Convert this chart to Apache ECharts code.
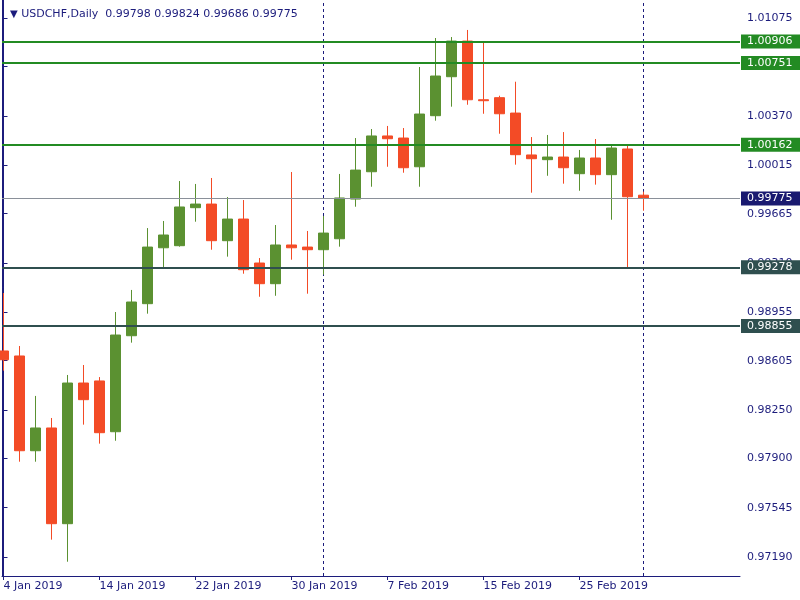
<!DOCTYPE html>
<html><head><meta charset="utf-8">
<script src="https://cdn.jsdelivr.net/npm/echarts@6/dist/echarts.min.js"></script>
<style>html,body{margin:0;padding:0;background:#fff}#c{width:800px;height:600px}</style>
</head><body><div id="c"></div>
<script>
const symbol = 'USDCHF';
const period = 'Daily';
const dates = ['2019-01-04',
  '2019-01-07','2019-01-08','2019-01-09','2019-01-10','2019-01-11',
  '2019-01-14','2019-01-15','2019-01-16','2019-01-17','2019-01-18',
  '2019-01-21','2019-01-22','2019-01-23','2019-01-24','2019-01-25',
  '2019-01-28','2019-01-29','2019-01-30','2019-01-31','2019-02-01',
  '2019-02-04','2019-02-05','2019-02-06','2019-02-07','2019-02-08',
  '2019-02-11','2019-02-12','2019-02-13','2019-02-14','2019-02-15',
  '2019-02-18','2019-02-19','2019-02-20','2019-02-21','2019-02-22',
  '2019-02-25','2019-02-26','2019-02-27','2019-02-28','2019-03-01'];
const opens = [0.98675, 0.98639, 0.97956, 0.98120, 0.97430, 0.98444, 0.98459, 0.98093, 0.98785, 0.99016,
  0.99419, 0.99434, 0.99708, 0.99734, 0.99470, 0.99626, 0.99309, 0.99160, 0.99439, 0.99424,
  0.99405, 0.99484, 0.99770, 0.99967, 1.00225, 1.00210, 1.00003, 1.00371, 1.00652, 1.00909,
  1.00486, 1.00501, 1.00390, 1.00088, 1.00054, 1.00073, 0.99953, 1.00066, 0.99946, 1.00131, 0.99798];
const closes = [0.98612, 0.97956, 0.98120, 0.97430, 0.98444, 0.98324, 0.98086, 0.98790, 0.99028, 0.99424,
  0.99511, 0.99713, 0.99734, 0.99470, 0.99626, 0.99261, 0.99160, 0.99439, 0.99419, 0.99405,
  0.99525, 0.99778, 0.99979, 1.00225, 1.00205, 0.99996, 1.00383, 1.00657, 1.00909, 1.00486,
  1.00479, 1.00385, 1.00090, 1.00061, 1.00073, 0.99996, 1.00066, 0.99946, 1.00138, 0.99787, 0.99775];
const highs = [0.99093, 0.98711, 0.98351, 0.98192, 0.98502, 0.98574, 0.98487, 0.98956, 0.99115, 0.99561,
  0.99612, 0.99900, 0.99879, 0.99922, 0.99785, 0.99763, 0.99345, 0.99583, 0.99965, 0.99540,
  0.99648, 0.99951, 1.00210, 1.00275, 1.00297, 1.00282, 1.00722, 1.00931, 1.00938, 1.00989,
  1.00902, 1.00515, 1.00616, 1.00217, 1.00232, 1.00253, 1.00124, 1.00203, 1.00162, 1.00162, 0.99824];
const lows = [0.98533, 0.97877, 0.97877, 0.97315, 0.97156, 0.98144, 0.98007, 0.98028, 0.98735, 0.98944,
  0.99266, 0.99427, 0.99607, 0.99405, 0.99355, 0.99232, 0.99066, 0.99073, 0.99333, 0.99088,
  0.99225, 0.99427, 0.99715, 0.99859, 1.00003, 0.99960, 0.99859, 1.00335, 1.00436, 1.00450,
  1.00385, 1.00241, 1.00018, 0.99816, 0.99938, 0.99881, 0.99830, 0.99874, 0.99621, 0.99270, 0.99686];
const xLabelDates = ['2019-01-04','2019-01-14','2019-01-22','2019-01-30','2019-02-07','2019-02-15','2019-02-25'];
const yTicks = [1.01075, 1.00725, 1.00370, 1.00015, 0.99665, 0.99310, 0.98955, 0.98605, 0.98250, 0.97900, 0.97545, 0.97190];
const resistanceLevels = [1.00906, 1.00751, 1.00162];
const supportLevels = [0.99278, 0.98855];

const NAVY = '#1c1c7c';
const UP = '#5b9131';
const DOWN = '#f34b26';
const GREEN_LINE = '#238b23';
const SUPPORT = '#2f4f4f';
const FONT = 'DejaVu Sans';
const MONTHS = ['Jan','Feb','Mar','Apr','May','Jun','Jul','Aug','Sep','Oct','Nov','Dec'];

function fmtDate(s) {
  const [y, m, d] = s.split('-').map(Number);
  return d + ' ' + MONTHS[m - 1] + ' ' + y;
}
const candleData = dates.map((d, i) => [i, opens[i], closes[i], lows[i], highs[i]]);
const xLabelIdx = xLabelDates.map(d => dates.indexOf(d));
const monthStarts = dates.map((d, i) => i).filter(i => i > 0 && dates[i].slice(5, 7) !== dates[i - 1].slice(5, 7));
const last = dates.length - 1;

const lvlLine = (v, color) => ({
  yAxis: v,
  lineStyle: { color: color, width: 2, type: 'solid' },
  label: { backgroundColor: color }
});

const chart = echarts.init(document.getElementById('c'), null, { renderer: 'canvas' });
chart.setOption({
  animation: false,
  backgroundColor: '#ffffff',
  title: {
    left: 5, top: 4,
    text: '{tri|▼} ' + symbol + ',' + period + '  ' +
      [opens[last], highs[last], lows[last], closes[last]].map(v => v.toFixed(5)).join(' '),
    textStyle: {
      color: NAVY, fontFamily: FONT, fontSize: 11, fontWeight: 'normal',
      rich: { tri: { fontSize: 10, color: NAVY, fontFamily: FONT } }
    }
  },
  grid: { left: 2, right: 60, top: 0, bottom: 24, containLabel: false },
  xAxis: {
    type: 'value', min: -0.09375, max: 46.03125,
    splitLine: { show: false },
    axisLine: { show: true, lineStyle: { color: NAVY, width: 1 } },
    axisTick: { show: true, customValues: xLabelIdx, length: 4, lineStyle: { color: NAVY } },
    axisLabel: {
      show: true, customValues: xLabelIdx, align: 'left', margin: 5,
      color: NAVY, fontFamily: FONT, fontSize: 11,
      formatter: v => fmtDate(dates[Math.round(v)])
    }
  },
  yAxis: [{
    type: 'value', position: 'right', min: 0.97053, max: 1.01205, scale: true,
    splitLine: { show: false },
    axisLine: { show: true, lineStyle: { color: NAVY, width: 1 } },
    axisTick: { show: true, customValues: yTicks, length: 4, lineStyle: { color: NAVY } },
    axisLabel: {
      show: true, customValues: yTicks, margin: 7,
      color: NAVY, fontFamily: FONT, fontSize: 11,
      formatter: v => v.toFixed(5)
    }
  }, {
    type: 'value', position: 'left', min: 0.97053, max: 1.01205, scale: true,
    splitLine: { show: false },
    axisLine: { show: true, lineStyle: { color: NAVY, width: 1 } },
    axisTick: { show: false }, axisLabel: { show: false }
  }],
  series: [{
    type: 'line', data: [], silent: true, z: 1,
    markLine: {
      silent: true, symbol: ['none', 'none'], z: 1,
      label: { show: false },
      lineStyle: { color: NAVY, width: 1, type: [3, 3] },
      data: monthStarts.map(i => ({ xAxis: i }))
    }
  }, {
    type: 'candlestick',
    z: 2,
    encode: { x: 0, y: [1, 2, 3, 4] },
    data: candleData,
    barWidth: 10,
    itemStyle: {
      color: UP, color0: DOWN, borderColor: UP, borderColor0: DOWN, borderWidth: 1
    },
    markLine: {
      silent: true, symbol: ['none', 'none'], z: 5, precision: 5,
      label: {
        show: true, position: 'end', distance: 1,
        color: '#ffffff', fontFamily: FONT, fontSize: 11,
        padding: [1, 8, 1, 6], lineHeight: 12,
        formatter: p => Number(p.value).toFixed(5)
      },
      data: [
        ...resistanceLevels.map(v => lvlLine(v, GREEN_LINE)),
        { yAxis: closes[last], lineStyle: { color: '#8a9099', width: 1, type: 'solid' },
          label: { backgroundColor: '#191970' } },
        ...supportLevels.map(v => lvlLine(v, SUPPORT))
      ]
    }
  }]
});
</script>
</body></html>
